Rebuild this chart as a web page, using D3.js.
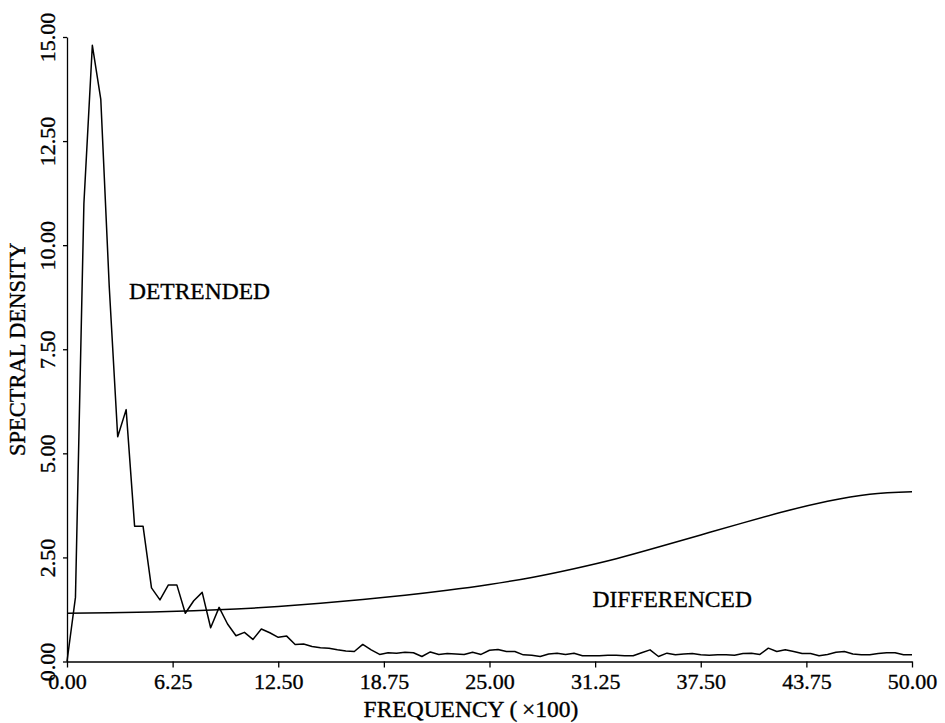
<!DOCTYPE html>
<html>
<head>
<meta charset="utf-8">
<script src="https://cdn.jsdelivr.net/npm/d3@7"></script>
<style>
  body { margin: 0; background: #fff; }
  text { font-family: "Liberation Serif", "Times New Roman", serif; fill: #000; stroke: #000; stroke-width: 0.35px; }
</style>
</head>
<body>
<div id="chart"></div>
<script>
// spectral density data (frequency x 100)
var freqStep = 0.5;
var detrended = [
  0.00, 1.54, 11.0, 14.8, 13.5, 9.00, 5.40, 6.05, 3.25, 3.25,
  1.77, 1.48, 1.84, 1.84, 1.16, 1.46, 1.66, 0.81, 1.30, 0.90,
  0.62, 0.70, 0.53, 0.78, 0.69, 0.58, 0.61, 0.41, 0.42, 0.36,
  0.33, 0.32, 0.28, 0.25, 0.24, 0.41, 0.28, 0.17, 0.21, 0.20,
  0.22, 0.21, 0.12, 0.23, 0.17, 0.19, 0.18, 0.17, 0.22, 0.17,
  0.27, 0.29, 0.24, 0.24, 0.16, 0.15, 0.12, 0.18, 0.20, 0.17,
  0.20, 0.14, 0.14, 0.14, 0.15, 0.15, 0.14, 0.14, 0.21, 0.28,
  0.12, 0.20, 0.16, 0.18, 0.19, 0.16, 0.15, 0.16, 0.16, 0.15,
  0.19, 0.20, 0.17, 0.32, 0.24, 0.28, 0.24, 0.19, 0.19, 0.14,
  0.17, 0.22, 0.24, 0.18, 0.16, 0.16, 0.19, 0.21, 0.21, 0.16,
  0.16
];

var diffFreqs = [0, 2.5, 5, 7.5, 10, 12.5, 15, 17.5, 20, 22.5, 25,
  27.5, 30, 32.5, 35, 37.5, 40, 42.5, 45, 47.5, 50];
var differenced = [1.16, 1.17, 1.19, 1.22, 1.26, 1.32, 1.40, 1.49, 1.59, 1.71, 1.85,
  2.02, 2.23, 2.47, 2.75, 3.04, 3.33, 3.61, 3.85, 4.02, 4.08];

var xTicks = [0, 6.25, 12.5, 18.75, 25, 31.25, 37.5, 43.75, 50];
var yTicks = [0, 2.5, 5, 7.5, 10, 12.5, 15];

var svgWidth = 945;
var svgHeight = 723;

var margin = {
  top: 37,
  right: 33,
  bottom: 61.5,
  left: 67
};

var width = svgWidth - margin.left - margin.right;
var height = svgHeight - margin.top - margin.bottom;

var svg = d3.select("#chart")
  .append("svg")
  .attr("width", svgWidth)
  .attr("height", svgHeight);

var chartGroup = svg.append("g")
  .attr("transform", `translate(${margin.left}, ${margin.top})`);

var xScale = d3.scaleLinear()
  .domain([0, 50])
  .range([0, width]);

var yScale = d3.scaleLinear()
  .domain([0, 15])
  .range([height, 0]);

// x axis
var bottomAxis = d3.axisBottom(xScale)
  .tickValues(xTicks)
  .tickFormat(d3.format(".2f"))
  .tickSize(6)
  .tickSizeOuter(0);

var xAxis = chartGroup.append("g")
  .attr("transform", `translate(0, ${height})`)
  .call(bottomAxis);

xAxis.selectAll("text")
  .attr("y", 27)
  .attr("dy", 0)
  .style("font-size", "22px");

// y axis, labels turned on their side
var leftAxis = d3.axisLeft(yScale)
  .tickValues(yTicks)
  .tickFormat(d3.format(".2f"))
  .tickSize(4)
  .tickSizeOuter(0);

var yAxis = chartGroup.append("g")
  .call(leftAxis);

yAxis.selectAll("text")
  .attr("transform", "rotate(-90)")
  .attr("text-anchor", "middle")
  .attr("x", 0)
  .attr("y", -12)
  .attr("dy", 0)
  .style("font-size", "22px");

chartGroup.selectAll(".domain, .tick line")
  .attr("stroke", "#000")
  .attr("stroke-width", 1.3);

// lines
var detrendedLine = d3.line()
  .x((d, i) => xScale(i * freqStep))
  .y(d => yScale(d));

chartGroup.append("path")
  .datum(detrended)
  .attr("fill", "none")
  .attr("stroke", "#000")
  .attr("stroke-width", 1.5)
  .attr("stroke-linejoin", "round")
  .attr("d", detrendedLine);

var differencedLine = d3.line()
  .x((d, i) => xScale(diffFreqs[i]))
  .y(d => yScale(d))
  .curve(d3.curveNatural);

chartGroup.append("path")
  .datum(differenced)
  .attr("fill", "none")
  .attr("stroke", "#000")
  .attr("stroke-width", 1.5)
  .attr("d", differencedLine);

// series labels
chartGroup.append("text")
  .attr("x", xScale(3.67))
  .attr("y", yScale(8.7))
  .style("font-size", "23.5px")
  .text("DETRENDED");

chartGroup.append("text")
  .attr("x", xScale(31.1))
  .attr("y", yScale(1.31))
  .style("font-size", "23.5px")
  .text("DIFFERENCED");

// axis titles
chartGroup.append("text")
  .attr("x", 471 - margin.left)
  .attr("y", height + 55)
  .attr("text-anchor", "middle")
  .style("font-size", "23.5px")
  .text("FREQUENCY (\u2009\u00d7100)");

chartGroup.append("text")
  .attr("transform", "rotate(-90)")
  .attr("x", 0 - (height / 2))
  .attr("y", 25 - margin.left)
  .attr("text-anchor", "middle")
  .style("font-size", "22.5px")
  .text("SPECTRAL DENSITY");
</script>
</body>
</html>
